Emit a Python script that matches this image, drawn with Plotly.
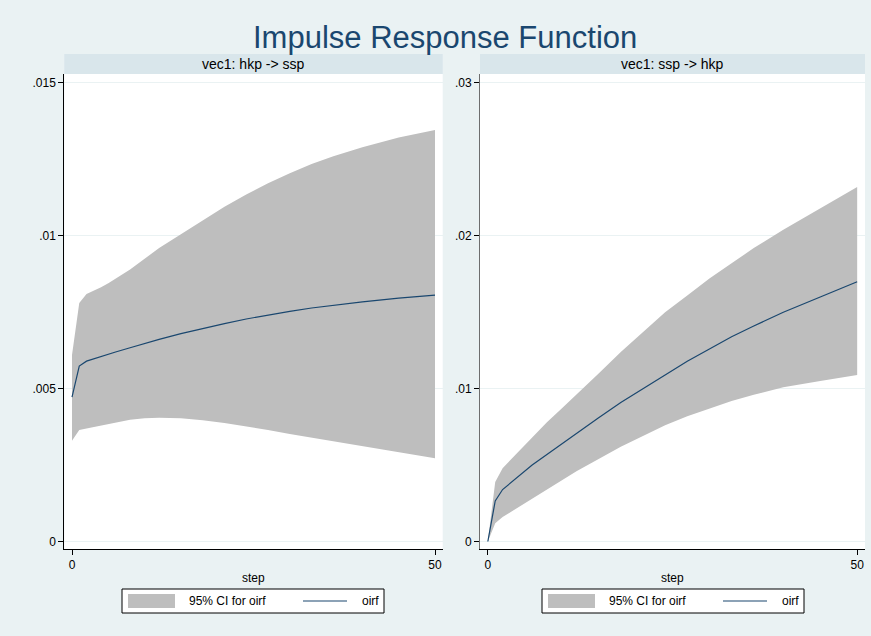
import plotly.graph_objects as go

# ---------------- data ----------------
steps = [0, 1, 2, 3, 4, 5, 6, 8, 10, 12, 15, 18, 21, 24, 27, 30, 33, 36, 40, 45, 50]

# panel 1: vec1: hkp -> ssp
oirf_hkp_ssp = [.00472, .00574, .00590, .00598, .00606, .00613, .00620, .00634, .00648, .00661,
                .00680, .00697, .00713, .00728, .00741, .00753, .00764, .00773, .00784, .00796, .00806]
upper_hkp_ssp = [.0061, .0078, .0081, .0082, .00832, .00845, .0086, .0089, .00925, .0096,
                 .01005, .0105, .01095, .01135, .01172, .01205, .01235, .0126, .0129, .01322, .01346]
lower_hkp_ssp = [.0033, .00365, .0037, .00375, .0038, .00385, .0039, .00398, .00403, .00405,
                 .00403, .00397, .00388, .00377, .00365, .00352, .0034, .00328, .00313, .00293, .00272]

# panel 2: vec1: ssp -> hkp
oirf_ssp_hkp = [0, .00265, .0034, .0038, .0042, .0046, .0050, .0057, .0064, .0071,
                .0081, .0091, .0100, .0109, .0118, .0126, .0134, .0141, .0150, .0160, .0170]
upper_ssp_hkp = [0, .0039, .0048, .0053, .0058, .0063, .0068, .0078, .0087, .0096,
                 .0110, .0124, .0137, .0150, .0161, .0172, .0182, .0192, .0204, .0218, .0232]
lower_ssp_hkp = [0, .0012, .0016, .0019, .0022, .0025, .0028, .0034, .0040, .0046,
                 .0054, .0062, .0069, .0076, .0082, .0087, .0092, .0096, .0101, .0105, .0109]

panel_titles = ["vec1: hkp -> ssp", "vec1: ssp -> hkp"]
ytick_vals_1 = [0, .005, .01, .015]
ytick_text_1 = ["0", ".005", ".01", ".015"]
ytick_vals_2 = [0, .01, .02, .03]
ytick_text_2 = ["0", ".01", ".02", ".03"]
xtick_vals = [0, 50]
xtick_text = ["0", "50"]
chart_title = "Impulse Response Function"
legend_labels = ["95% CI for oirf", "oirf"]

# ---------------- style ----------------
W, H = 871, 636
BG = "#EAF2F3"
STRIP = "#D9E6EB"
BAND = "#BEBEBE"
LINE = "#1A476F"
GRID = "#EAF2F3"
FONT = "Liberation Sans, Arial, Helvetica, sans-serif"


def px(x):
    return x / W


def py(y):
    return 1 - y / H


fig = go.Figure()

panels = [
    (oirf_hkp_ssp, upper_hkp_ssp, lower_hkp_ssp, "x", "y"),
    (oirf_ssp_hkp, upper_ssp_hkp, lower_ssp_hkp, "x2", "y2"),
]
for oirf, up, lo, xa, ya in panels:
    fig.add_trace(go.Scatter(x=steps, y=up, mode="lines", line=dict(width=0, color=BAND),
                             xaxis=xa, yaxis=ya, showlegend=False, hoverinfo="skip"))
    fig.add_trace(go.Scatter(x=steps, y=lo, mode="lines", line=dict(width=0, color=BAND),
                             fill="tonexty", fillcolor=BAND,
                             xaxis=xa, yaxis=ya, showlegend=False, hoverinfo="skip"))
    fig.add_trace(go.Scatter(x=steps, y=oirf, mode="lines", line=dict(width=1.2, color=LINE),
                             xaxis=xa, yaxis=ya, showlegend=False))

# panel pixel geometry
left_panels = [(64.3, 442.7), (480.0, 865.0)]
plot_top, plot_bot = 74, 549
strip_top = 54

xcommon = dict(range=[-1.06, 51.06], tickvals=xtick_vals, ticktext=xtick_text,
               showline=True, linecolor="black", linewidth=1, ticks="outside",
               ticklen=5, tickcolor="black", showgrid=False, zeroline=False,
               tickfont=dict(size=12, color="black", family=FONT))
ycommon = dict(showline=True, linewidth=1, ticks="outside", ticklen=5,
               showgrid=True, gridcolor=GRID, gridwidth=1, zeroline=False,
               tickfont=dict(size=12, color="black", family=FONT))

fig.update_layout(
    xaxis=dict(xcommon, domain=[px(left_panels[0][0]), px(left_panels[0][1])], anchor="y"),
    xaxis2=dict(xcommon, domain=[px(left_panels[1][0]), px(left_panels[1][1])], anchor="y2"),
    yaxis=dict(ycommon, domain=[py(plot_bot), py(plot_top)], anchor="x",
               range=[-0.000245, 0.015294], tickvals=ytick_vals_1, ticktext=ytick_text_1,
               linecolor="black", tickcolor="black"),
    yaxis2=dict(ycommon, domain=[py(plot_bot), py(plot_top)], anchor="x2",
                range=[-0.00049, 0.030588], tickvals=ytick_vals_2, ticktext=ytick_text_2,
                linecolor="#6E6E6E", tickcolor="black"),
)

shapes = []
annotations = []

annotations.append(dict(text=chart_title, x=px(444.5), y=py(37), xref="paper", yref="paper",
                        xanchor="center", yanchor="middle", showarrow=False,
                        font=dict(size=31, color=LINE, family=FONT)))

legend_boxes = [(122, 384), (542, 804)]
for i, (x0, x1) in enumerate(left_panels):
    # strip header
    shapes.append(dict(type="rect", xref="paper", yref="paper", x0=px(x0), x1=px(x1),
                       y0=py(plot_top), y1=py(strip_top), fillcolor=STRIP, line=dict(width=0),
                       layer="below"))
    cx = (x0 + x1) / 2
    annotations.append(dict(text=panel_titles[i], x=px(cx), y=py(64), xref="paper", yref="paper",
                            xanchor="center", yanchor="middle", showarrow=False,
                            font=dict(size=14, color="black", family=FONT)))
    annotations.append(dict(text="step", x=px(cx), y=py(578), xref="paper", yref="paper",
                            xanchor="center", yanchor="middle", showarrow=False,
                            font=dict(size=12, color="black", family=FONT)))
    # legend
    lx0, lx1 = legend_boxes[i]
    shapes.append(dict(type="rect", xref="paper", yref="paper", x0=px(lx0), x1=px(lx1),
                       y0=py(613), y1=py(589), fillcolor="white", line=dict(color="black", width=1)))
    shapes.append(dict(type="rect", xref="paper", yref="paper", x0=px(lx0 + 6), x1=px(lx0 + 53),
                       y0=py(608), y1=py(594), fillcolor=BAND, line=dict(width=0)))
    annotations.append(dict(text=legend_labels[0], x=px(lx0 + 105), y=py(601), xref="paper",
                            yref="paper", xanchor="center", yanchor="middle", showarrow=False,
                            font=dict(size=12, color="black", family=FONT)))
    shapes.append(dict(type="line", xref="paper", yref="paper", x0=px(lx0 + 181), x1=px(lx0 + 225),
                       y0=py(601), y1=py(601), line=dict(color=LINE, width=1.2)))
    annotations.append(dict(text=legend_labels[1], x=px(lx0 + 248), y=py(601), xref="paper",
                            yref="paper", xanchor="center", yanchor="middle", showarrow=False,
                            font=dict(size=12, color="black", family=FONT)))

fig.update_layout(
    width=W, height=H,
    margin=dict(l=0, r=0, t=0, b=0),
    paper_bgcolor=BG, plot_bgcolor="white",
    showlegend=False,
    shapes=shapes, annotations=annotations,
    font=dict(family=FONT, color="black"),
)

fig.write_html("out.html", config={"displayModeBar": False},
               post_script="document.body.style.margin='0';")
